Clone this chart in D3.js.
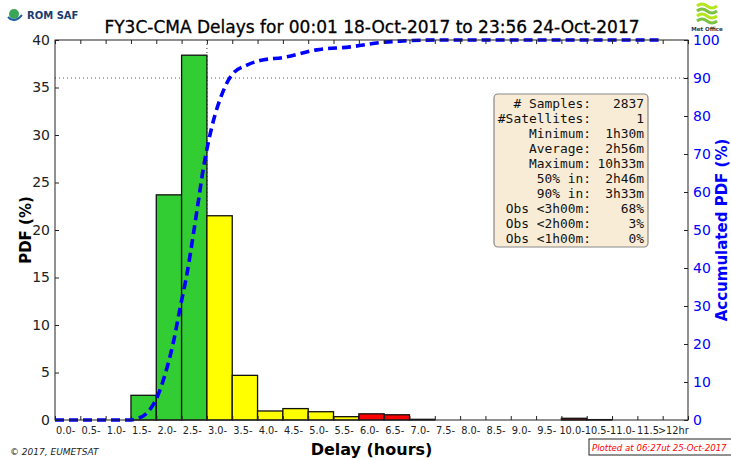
<!DOCTYPE html>
<html>
<head>
<meta charset="utf-8">
<script src="https://cdn.jsdelivr.net/npm/d3@7"></script>
<style>
  body { margin: 0; background: #fff; }
  svg { font-family: "DejaVu Sans", sans-serif; }
</style>
</head>
<body>
<div id="svg"></div>
<script>
// bins of 0.5 h, last one is >12hr
const binLabels = ['0.0-','0.5-','1.0-','1.5-','2.0-','2.5-','3.0-','3.5-','4.0-','4.5-','5.0-','5.5-',
                   '6.0-','6.5-','7.0-','7.5-','8.0-','8.5-','9.0-','9.5-','10.0-','10.5-','11.0-','11.5','>12hr'];
const pdfValues = [0,0,0,2.6,23.7,38.4,21.5,4.7,0.95,1.2,0.87,0.35,0.65,0.55,0.07,0,0,0,0,0,0.18,0.04,0,0,0];

// accumulated pdf
const accHours = [0,1.45,1.6,1.81,2.01,2.21,2.34,2.47,2.6,2.73,2.83,2.93,3.03,3.16,3.29,3.49,3.79,4.05,4.51,5.17,5.83,6.49,6.82,7.5,12.0];
const accValues = [0,0,0.3,1.8,5.8,13.7,20.6,29.5,38,48.7,57.5,66.3,73.2,80.3,85.5,90.8,93.4,94.6,95.4,97.4,98.2,99.4,99.7,100,100];

const statLabels = ['# Samples:','#Satellites:','Minimum:','Average:','Maximum:','50% in:','90% in:','Obs <3h00m:','Obs <2h00m:','Obs <1h00m:'];
const statValues = ['2837','1','1h30m','2h56m','10h33m','2h46m','3h33m','68%','3%','0%'];

const leftTicks = [0,5,10,15,20,25,30,35,40];
const rightTicks = [0,10,20,30,40,50,60,70,80,90,100];

//set variables
const w = 731, h = 460;
const pLeft = 55, pRight = 688, pTop = 40, pBottom = 420;

const svg = d3.select('#svg').append('svg').attr('width', w).attr('height', h);

const xLin = d3.scaleLinear().domain([0, 12.5]).range([pLeft, pRight]);
const xBand = d3.scaleBand().domain(binLabels).range([pLeft, pRight]).padding(0);
const y = d3.scaleLinear().domain([0, 40]).range([pBottom, pTop]);
const yAcc = d3.scaleLinear().domain([0, 100]).range([pBottom, pTop]);

const binColor = (i) => i < 6 ? '#32cd32' : (i < 12 ? '#ffff00' : '#ff0000');

//guide lines (dotted)
svg.append('line')
    .attr('x1', pLeft).attr('x2', pRight)
    .attr('y1', yAcc(90)).attr('y2', yAcc(90))
    .style('stroke', '#555').style('stroke-width', 1.2).style('stroke-dasharray', '1,3');
svg.append('line')
    .attr('x1', xLin(3)).attr('x2', xLin(3))
    .attr('y1', pTop).attr('y2', pBottom)
    .style('stroke', '#555').style('stroke-width', 1.2).style('stroke-dasharray', '1,3');

//bars
svg.append('g').selectAll('rect')
    .data(pdfValues.map((v, i) => ({v: v, i: i, label: binLabels[i]})).filter(d => d.v > 0))
    .enter()
    .append('rect')
    .attr('x', d => xBand(d.label))
    .attr('y', d => y(d.v))
    .attr('width', xBand.bandwidth())
    .attr('height', d => y(0) - y(d.v))
    .style('fill', d => binColor(d.i))
    .style('stroke', '#111')
    .style('stroke-width', 1.3);

//accumulated curve
const line = d3.line()
    .x(d => xLin(d[0]))
    .y(d => yAcc(d[1]))
    .curve(d3.curveMonotoneX);
svg.append('path')
    .datum(accHours.map((hh, i) => [hh, accValues[i]]))
    .attr('d', line)
    .style('fill', 'none')
    .style('stroke', '#0000ff')
    .style('stroke-width', 3.6)
    .style('stroke-dasharray', '9,5');

//frame
svg.append('rect')
    .attr('x', pLeft).attr('y', pTop)
    .attr('width', pRight - pLeft).attr('height', pBottom - pTop)
    .style('fill', 'none').style('stroke', '#222').style('stroke-width', 1);

//edge ticks (top and bottom, inward)
const edges = d3.range(0, 12.51, 0.5);
const bottomTicks = d3.axisBottom(xLin).tickValues(edges).tickSizeInner(-4).tickSizeOuter(0).tickFormat('');
const topTicks = d3.axisTop(xLin).tickValues(edges).tickSizeInner(-4).tickSizeOuter(0).tickFormat('');
svg.append('g').attr('transform', `translate(0,${pBottom})`).call(bottomTicks)
    .call(g => g.select('.domain').remove()).selectAll('line').style('stroke', '#222');
svg.append('g').attr('transform', `translate(0,${pTop})`).call(topTicks)
    .call(g => g.select('.domain').remove()).selectAll('line').style('stroke', '#222');

//bin labels
const xLabels = d3.axisBottom(xBand).tickSize(0).tickPadding(7);
svg.append('g').attr('transform', `translate(0,${pBottom})`).call(xLabels)
    .call(g => g.select('.domain').remove())
    .selectAll('text')
    .attr('dx', -2)
    .style('font-size', '9.8px').style('fill', '#222')
    .style('font-family', '"DejaVu Sans", sans-serif');

//left axis
const yAxis = d3.axisLeft(y).tickValues(leftTicks).tickSizeInner(-4).tickSizeOuter(0).tickPadding(5);
svg.append('g').attr('transform', `translate(${pLeft},0)`).call(yAxis)
    .call(g => g.select('.domain').remove())
    .call(g => g.selectAll('line').style('stroke', '#222'))
    .selectAll('text')
    .style('font-size', '14px').style('fill', '#222')
    .style('font-family', '"DejaVu Sans", sans-serif');

//right axis
const yAxisR = d3.axisRight(yAcc).tickValues(rightTicks).tickSizeInner(-4).tickSizeOuter(0).tickPadding(5);
svg.append('g').attr('transform', `translate(${pRight},0)`).call(yAxisR)
    .call(g => g.select('.domain').remove())
    .call(g => g.selectAll('line').style('stroke', '#222'))
    .selectAll('text')
    .style('font-size', '14px').style('fill', '#0000ff')
    .style('font-family', '"DejaVu Sans", sans-serif');

//axis labels
svg.append('text')
    .attr('text-anchor', 'middle')
    .attr('transform', `translate(31,${(pTop + pBottom) / 2}) rotate(-90)`)
    .style('font-size', '15px').style('font-weight', 'bold')
    .text('PDF (%)');
svg.append('text')
    .attr('text-anchor', 'middle')
    .attr('transform', `translate(727,${(pTop + pBottom) / 2}) rotate(-90)`)
    .style('font-size', '15px').style('font-weight', 'bold').style('fill', '#0000ff')
    .text('Accumulated PDF (%)');
svg.append('text')
    .attr('text-anchor', 'middle')
    .attr('x', (pLeft + pRight) / 2).attr('y', 455)
    .style('font-size', '16px').style('font-weight', 'bold')
    .text('Delay (hours)');

//title
svg.append('text')
    .attr('text-anchor', 'middle')
    .attr('x', 372).attr('y', 33)
    .style('font-size', '17px')
    .style('font-weight', 500)
    .style('stroke', '#000').style('stroke-width', 0.3)
    .text('FY3C-CMA Delays for 00:01 18-Oct-2017 to 23:56 24-Oct-2017');

//stats box
const bx = 494, by = 94, bw = 154, bh = 153;
svg.append('rect')
    .attr('x', bx).attr('y', by).attr('width', bw).attr('height', bh)
    .attr('rx', 4)
    .style('fill', '#f9ecd7').style('stroke', '#888').style('stroke-width', 1.2);
const stats = svg.append('g').style('font-family', '"DejaVu Sans Mono", monospace').style('font-size', '12.9px').style('fill', '#111');
statLabels.forEach((s, i) => {
    stats.append('text').attr('x', 591).attr('y', by + 14 + i * 15).attr('text-anchor', 'end').text(s);
    stats.append('text').attr('x', 644).attr('y', by + 14 + i * 15).attr('text-anchor', 'end').text(statValues[i]);
});

//footer texts
svg.append('text')
    .attr('x', 10).attr('y', 455)
    .style('font-size', '9px').style('font-style', 'italic').style('fill', '#222')
    .text('\u00a9 2017, EUMETSAT');
svg.append('rect')
    .attr('x', 589).attr('y', 439).attr('width', 150).attr('height', 16)
    .style('fill', '#fff').style('stroke', '#222').style('stroke-width', 1);
svg.append('text')
    .attr('x', 592).attr('y', 451)
    .style('font-size', '8.6px').style('font-style', 'italic').style('fill', '#ff0000')
    .text('Plotted at 06:27ut 25-Oct-2017');

//ROM SAF logo
svg.append('circle').attr('cx', 14).attr('cy', 14).attr('r', 5).style('fill', '#3aa655');
svg.append('path').attr('d', 'M8,17 Q14,24 22,15').style('fill', 'none').style('stroke', '#1f5fa0').style('stroke-width', 2);
svg.append('text')
    .attr('x', 27).attr('y', 19)
    .style('font-size', '10px').style('font-weight', 'bold').style('fill', '#1b3c6e')
    .text('ROM SAF');

//Met Office logo
const mo = svg.append('g');
[0, 5, 10, 15].forEach(off => {
    mo.append('path')
        .attr('d', `M697,${6 + off} q5,-4 10,0 t10,0`)
        .style('fill', 'none').style('stroke', off % 10 === 0 ? '#b5e61d' : '#7dc242').style('stroke-width', 3);
});
mo.append('text')
    .attr('x', 707).attr('y', 31).attr('text-anchor', 'middle')
    .style('font-size', '5.5px').style('font-weight', 'bold').style('fill', '#333')
    .text('Met Office');
</script>
</body>
</html>
